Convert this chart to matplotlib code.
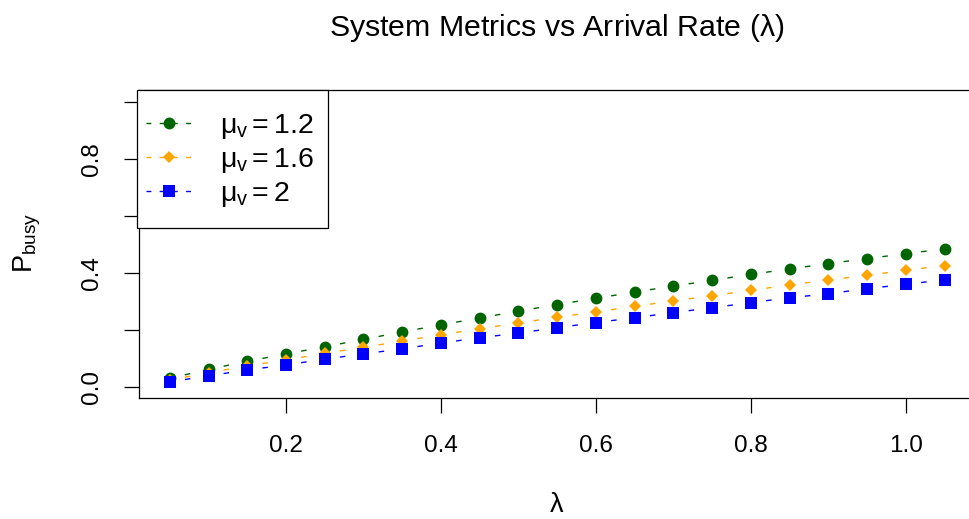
import numpy as np
import matplotlib
matplotlib.use("Agg")
import matplotlib.pyplot as plt
from matplotlib.lines import Line2D
from matplotlib.patches import Rectangle

plt.rcParams['font.family'] = ['Liberation Sans', 'DejaVu Sans']
plt.rcParams['mathtext.fontset'] = 'custom'
plt.rcParams['mathtext.rm'] = 'Liberation Sans'
plt.rcParams['mathtext.it'] = 'Liberation Sans'

# arrival rates
lam = np.round(np.arange(0.05, 1.051, 0.05), 2)

# P_busy, one list per service rate
p_12 = [0.030, 0.062, 0.090, 0.116, 0.141, 0.167, 0.193, 0.218, 0.242, 0.266,
        0.289, 0.311, 0.333, 0.354, 0.374, 0.395, 0.414, 0.433, 0.450, 0.468, 0.484]
p_16 = [0.024, 0.050, 0.074, 0.095, 0.118, 0.139, 0.161, 0.183, 0.205, 0.224,
        0.245, 0.263, 0.283, 0.302, 0.320, 0.339, 0.358, 0.375, 0.392, 0.409, 0.426]
p_20 = [0.018, 0.039, 0.060, 0.077, 0.098, 0.116, 0.134, 0.154, 0.173, 0.189,
        0.208, 0.226, 0.243, 0.261, 0.278, 0.296, 0.313, 0.327, 0.345, 0.360, 0.376]

series = [
    (p_12, 'darkgreen', 'o', 8.5, r'$\mu_{\mathrm{v}} = 1.2$'),
    (p_16, 'orange', 'D', 6.0, r'$\mu_{\mathrm{v}} = 1.6$'),
    (p_20, 'blue', 's', 8.5, r'$\mu_{\mathrm{v}} = 2$'),
]

W, H = 969, 519
fig = plt.figure(figsize=(W / 100, H / 100), dpi=100)
ax = fig.add_axes([138.75 / W, (H - 398.4) / H, (975.75 - 138.75) / W, 308 / H])
ax.set_xlim(0.01, 1.09)
ax.set_ylim(-0.04, 1.04)

gap = 0.0195  # like R type="b": lines stop short of the points
dash = (4, 4.5)
handles = []
for vals, col, mk, ms, lab in series:
    vals = np.array(vals)
    for i in range(len(lam) - 1):
        x0, x1 = lam[i], lam[i + 1]
        y0, y1 = vals[i], vals[i + 1]
        t0 = gap / (x1 - x0)
        xs = [x0 + t0 * (x1 - x0), x1 - t0 * (x1 - x0)]
        ys = [y0 + t0 * (y1 - y0), y1 - t0 * (y1 - y0)]
        ax.plot(xs, ys, color=col, lw=1.0, linestyle=(0, dash))
    ax.plot(lam, vals, linestyle='none', marker=mk, markersize=ms,
            color=col, markeredgewidth=0)
    handles.append(Line2D([], [], color=col, lw=1.0, linestyle=(0, (3.5, 6)),
                          marker=mk, markersize=ms, markeredgewidth=0, label=lab))

ax.set_xticks([0.2, 0.4, 0.6, 0.8, 1.0])
ax.set_xticklabels(['0.2', '0.4', '0.6', '0.8', '1.0'])
ax.set_yticks([0.0, 0.2, 0.4, 0.6, 0.8, 1.0])
ax.set_yticklabels(['0.0', '', '0.4', '', '0.8', ''])
ax.tick_params(direction='out', length=11, width=0.9, labelsize=17.5, pad=15, color='black')
for lbl in ax.get_yticklabels():
    lbl.set_rotation(90)
    lbl.set_va('center')
for s in ax.spines.values():
    s.set_linewidth(0.9)
ax.spines['right'].set_visible(False)

# legend box like R's (more room above and below than at the sides)
box = Rectangle((137 / W, 1 - 228 / H), 191 / W, 138 / H, transform=fig.transFigure,
                facecolor='white', edgecolor='black', linewidth=0.9, zorder=5,
                clip_on=False)
ax.add_patch(box)
leg = ax.legend(handles=handles, loc='upper left',
                bbox_to_anchor=(146 / W, 1 - 112 / H), bbox_transform=fig.transFigure,
                borderaxespad=0, borderpad=0, frameon=False,
                fontsize=20.5, handlelength=1.65, handletextpad=0.95,
                labelspacing=0.18)
leg.set_zorder(6)

fig.text(557 / W, 1 - 28 / H, r'System Metrics vs Arrival Rate ($\lambda$)',
         ha='center', va='center', fontsize=21.8)
fig.text(557 / W, 1 - 505 / H, r'$\lambda$', ha='center', va='center', fontsize=19.5)
fig.text(27 / W, 1 - 243 / H, r'$\mathrm{P}_{\mathrm{busy}}$', ha='center', va='center',
         rotation=90, fontsize=19.5)

fig.savefig('out.png', dpi=100)
